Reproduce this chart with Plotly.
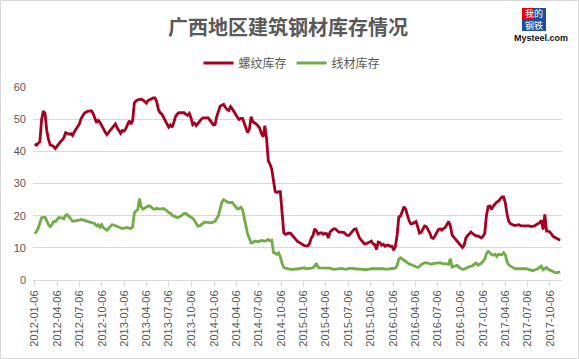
import pandas as pd
import plotly.graph_objects as go

start_date = "2012-01-06"
series_names = ["螺纹库存", "线材库存"]

rebar = [
    42.3, 41.9, 42.5, 43.0, 49.8, 52.5, 51.8, 46.5, 43.8, 42.0, 41.8, 41.5, 40.9,
    41.6, 42.5, 43.0, 43.5, 44.3, 45.8, 45.5, 45.3, 45.5, 44.9, 46.0, 46.8, 47.5,
    48.5, 50.2, 51.0, 51.9, 52.2, 52.5, 52.5, 52.6, 51.8, 50.5, 48.9, 49.6, 49.0,
    48.0, 46.8, 46.0, 45.2, 45.8, 46.5, 47.2, 47.8, 48.5, 47.3, 46.5, 45.6, 46.5,
    46.3, 47.0, 48.5, 49.5, 48.5, 49.5, 55.0, 55.7, 56.0, 56.2, 56.2, 56.0, 55.5,
    55.0, 55.8, 56.1, 56.4, 56.6, 56.6, 55.5, 53.0, 52.0, 51.6, 50.5, 49.5, 48.2,
    47.5,
    48.2, 47.5, 49.0, 50.8, 51.6, 52.0, 52.0, 52.1, 52.0, 51.5, 51.2, 51.8, 50.4,
    48.3, 48.8, 48.0, 48.7, 49.3, 50.0, 50.4, 50.3, 50.4, 50.4, 49.8, 49.0, 48.2,
    48.3, 50.9, 52.5, 54.1, 54.3, 54.6, 53.7, 53.0, 52.7, 53.9, 53.2, 52.2, 51.5,
    50.6, 49.9, 50.2, 50.2, 48.5, 47.0, 45.8, 47.0, 50.8, 49.2, 48.9, 48.5, 47.9,
    47.2, 45.5, 44.5, 48.0, 44.0, 37.0, 36.0, 34.5, 31.0, 27.5, 27.2, 27.5, 27.5,
    22.0, 14.7, 14.2, 14.4, 14.6, 14.5, 13.9, 13.3, 12.5, 12.0, 11.7, 11.3, 10.9,
    10.7,
    10.6, 10.6, 11.3, 13.0, 13.8, 15.9, 15.3, 14.3, 14.6, 14.7, 14.2, 14.5, 14.4,
    13.1, 15.0, 15.6, 15.9, 15.9, 15.3, 14.9, 14.9, 14.9, 14.8, 14.3, 13.9, 13.9,
    14.6, 15.1, 15.8, 15.9, 14.5, 13.2, 12.5, 11.7, 11.2, 11.3, 11.6, 11.9, 12.1,
    11.2, 11.0, 9.5, 11.8, 11.6, 10.8, 11.1, 10.5, 10.8, 10.8, 10.5, 10.5, 9.3,
    10.5, 14.0, 19.6, 19.9, 21.2, 22.8, 22.0, 20.0, 18.4, 17.4, 17.5, 17.9, 18.2,
    16.5, 14.6, 14.8, 15.6, 16.8, 16.6, 15.8, 14.7, 13.2, 12.9, 13.7, 14.8, 15.7,
    15.9,
    15.5, 16.0, 16.3, 17.3, 18.2, 16.8, 14.0, 13.3, 12.6, 12.0, 11.2, 10.6, 10.1,
    10.8, 13.0, 13.8, 14.4, 14.9, 14.4, 13.9, 13.7, 13.7, 13.3, 13.1, 13.6, 14.5,
    20.0, 22.8, 23.0, 22.0, 23.0, 23.8, 24.2, 24.5, 25.2, 25.8, 25.8, 24.0, 20.5,
    18.2, 17.5, 17.2, 17.0, 17.0, 17.1, 17.2, 16.9, 16.9, 17.0, 16.9, 16.8, 16.8,
    16.6, 16.7, 16.8, 17.2, 17.4, 17.8, 18.6, 15.7, 20.4, 15.2, 15.2, 14.9, 14.2,
    13.5, 13.2, 12.8, 12.6, 12.5,
]

wire = [
    14.4, 15.0, 16.0, 17.5, 19.4, 19.5, 19.5, 18.5, 17.2, 16.6, 17.2, 18.2, 18.1,
    18.8, 19.4, 19.3, 19.3, 19.0, 20.1, 20.3, 19.6, 18.8, 18.3, 18.3, 18.3, 18.5,
    18.6, 18.8, 18.7, 18.5, 18.3, 18.1, 18.0, 17.8, 17.7, 17.5, 16.8, 17.2, 16.4,
    17.2, 16.2, 15.8, 15.5, 16.0, 16.6, 17.2, 17.1, 16.9, 16.6, 16.3, 16.1, 16.0,
    16.1, 16.2, 16.3, 16.1, 16.0, 16.5, 20.9, 21.5, 21.9, 25.3, 22.7, 22.0, 22.3,
    22.7, 23.0, 23.0, 22.5, 22.1, 22.0, 22.3, 22.1, 22.0, 22.1, 22.2, 21.9, 21.5,
    21.0,
    20.8, 20.1, 19.8, 19.5, 19.4, 19.5, 19.8, 20.2, 20.7, 20.7, 20.2, 19.8, 19.5,
    19.2, 18.5, 17.5, 16.7, 16.8, 17.2, 17.6, 18.0, 17.9, 17.8, 17.8, 17.8, 18.0,
    18.3, 19.2, 20.0, 22.2, 24.2, 25.0, 24.7, 24.3, 24.0, 24.1, 24.1, 23.4, 22.8,
    22.1, 22.2, 22.6, 21.8, 19.0, 15.8, 14.2, 13.0, 11.5, 11.6, 12.1, 12.0, 11.9,
    12.1, 12.3, 12.2, 12.1, 12.3, 12.6, 12.2, 12.4, 8.6, 8.2, 8.0, 8.4, 7.2,
    5.2, 3.9, 3.7, 3.5, 3.4, 3.3, 3.3, 3.3, 3.3, 3.4, 3.5, 3.6, 3.7,
    3.8,
    3.5, 3.5, 3.6, 3.7, 3.8, 4.3, 5.2, 3.9, 3.8, 3.8, 3.8, 3.8, 3.8,
    3.7, 3.7, 3.5, 3.3, 3.4, 3.5, 3.6, 3.7, 3.6, 3.4, 3.3, 3.4, 3.6,
    3.7, 3.6, 3.5, 3.5, 3.4, 3.3, 3.3, 3.3, 3.2, 3.2, 3.3, 3.4, 3.5,
    3.5, 3.6, 3.6, 3.6, 3.7, 3.7, 3.5, 3.4, 3.3, 3.4, 3.5, 3.5, 3.6,
    3.7, 4.5, 6.5, 6.9, 6.5, 6.1, 5.7, 5.3, 5.0, 4.8, 4.5, 4.3, 4.1,
    3.9, 4.2, 4.8, 5.1, 5.3, 5.4, 5.2, 5.0, 4.9, 5.1, 5.2, 5.2, 5.3,
    5.4,
    5.2, 5.1, 5.1, 5.0, 4.9, 6.6, 4.0, 4.2, 4.4, 4.6, 4.0, 3.5, 3.3,
    3.4, 3.7, 3.9, 4.1, 4.3, 4.4, 5.0, 5.3, 4.6, 4.8, 5.2, 5.8, 6.5,
    8.2, 8.9, 8.5, 7.9, 7.7, 8.0, 7.3, 8.0, 7.8, 7.9, 8.5, 7.8, 5.7,
    4.7, 4.3, 3.9, 3.7, 3.5, 3.5, 3.5, 3.7, 3.7, 3.6, 3.5, 3.4, 3.2,
    2.9, 2.9, 3.1, 3.3, 3.5, 4.0, 4.3, 3.2, 3.5, 3.9, 3.3, 3.0, 2.8,
    2.5, 2.3, 2.3, 2.4, 2.5,
]

tick_labels = [
    "2012-01-06", "2012-04-06", "2012-07-06", "2012-10-06",
    "2013-01-06", "2013-04-06", "2013-07-06", "2013-10-06",
    "2014-01-06", "2014-04-06", "2014-07-06", "2014-10-06",
    "2015-01-06", "2015-04-06", "2015-07-06", "2015-10-06",
    "2016-01-06", "2016-04-06", "2016-07-06", "2016-10-06",
    "2017-01-06", "2017-04-06", "2017-07-06", "2017-10-06",
]
y_ticks = [0, 10, 20, 30, 40, 50, 60]

dates_rebar = pd.date_range(start_date, periods=len(rebar), freq="7D")
dates_wire = pd.date_range(start_date, periods=len(wire), freq="7D")

W, H = 579, 359
L, R, T, B = 33, 17, 87, 79
pw, ph = W - L - R, H - T - B


def px(x):
    return (x - L) / pw


def py(y):
    return (H - B - y) / ph


grey = "#595959"
grid = "#d9d9d9"

fig = go.Figure()
fig.add_trace(go.Scatter(x=dates_rebar, y=rebar, mode="lines", name=series_names[0],
                         line=dict(color="#A50021", width=2.8)))
fig.add_trace(go.Scatter(x=dates_wire, y=wire, mode="lines", name=series_names[1],
                         line=dict(color="#70AD47", width=2.8)))

shapes = [
    dict(type="rect", xref="paper", yref="paper", x0=px(0.5), x1=px(W - 0.5),
         y0=py(H - 0.5), y1=py(0.5), line=dict(color="#d9d9d9", width=1)),
    # logo boxes
    dict(type="rect", xref="paper", yref="paper", x0=px(522), x1=px(534), y0=py(20), y1=py(8),
         fillcolor="#e60012", line=dict(width=0)),
    dict(type="rect", xref="paper", yref="paper", x0=px(534), x1=px(546), y0=py(20), y1=py(8),
         fillcolor="#1d4f9c", line=dict(width=0)),
    dict(type="rect", xref="paper", yref="paper", x0=px(522), x1=px(546), y0=py(31), y1=py(20),
         fillcolor="#1d4f9c", line=dict(width=0)),
]

annotations = [
    dict(text="我的<br>钢铁", xref="paper", yref="paper", x=px(534), y=py(19.5),
         showarrow=False, xanchor="center", yanchor="middle", borderpad=0,
         font=dict(family="Noto Sans CJK SC", size=9, color="white")),
    dict(text="<b>Mysteel.com</b>", xref="paper", yref="paper",
         x=px(541), y=py(38), showarrow=False, xanchor="center", yanchor="middle",
         borderpad=0,
         font=dict(family="Liberation Sans, Arial", size=9, color="#111111")),
]

fig.update_layout(
    width=W, height=H,
    margin=dict(l=L, r=R, t=T, b=B, pad=0, autoexpand=False),
    paper_bgcolor="white", plot_bgcolor="white",
    title=dict(text="<b>广西地区建筑钢材库存情况</b>", x=288 / W, xanchor="center",
               y=1 - 28 / H, yanchor="middle",
               font=dict(family="Noto Sans CJK SC", size=20, color=grey)),
    legend=dict(orientation="h", x=px(292), xanchor="center",
                y=py(63), yanchor="middle",
                font=dict(family="Noto Sans CJK SC", size=12, color=grey),
                itemwidth=30, tracegroupgap=0),
    showlegend=True,
    shapes=shapes,
    annotations=annotations,
    xaxis=dict(
        type="date",
        range=["2011-12-30", "2017-11-24"],
        tickvals=tick_labels, ticktext=tick_labels,
        tickangle=-90,
        tickfont=dict(family="Liberation Sans, Arial", size=11, color=grey),
        showgrid=False, zeroline=False,
        showline=True, linecolor=grid, linewidth=1,
        ticks="outside", ticklen=5, tickcolor=grid,
        automargin=False,
        fixedrange=True,
    ),
    yaxis=dict(
        range=[0, 60], tickvals=y_ticks,
        tickfont=dict(family="Liberation Sans, Arial", size=11, color=grey),
        showgrid=True, gridcolor=grid, gridwidth=1,
        zeroline=False, showline=False,
        ticklabelstandoff=6,
        automargin=False,
        fixedrange=True,
    ),
)

fig.write_html("out.html", post_script="document.body.style.margin='0';",
               config={"displayModeBar": False})
